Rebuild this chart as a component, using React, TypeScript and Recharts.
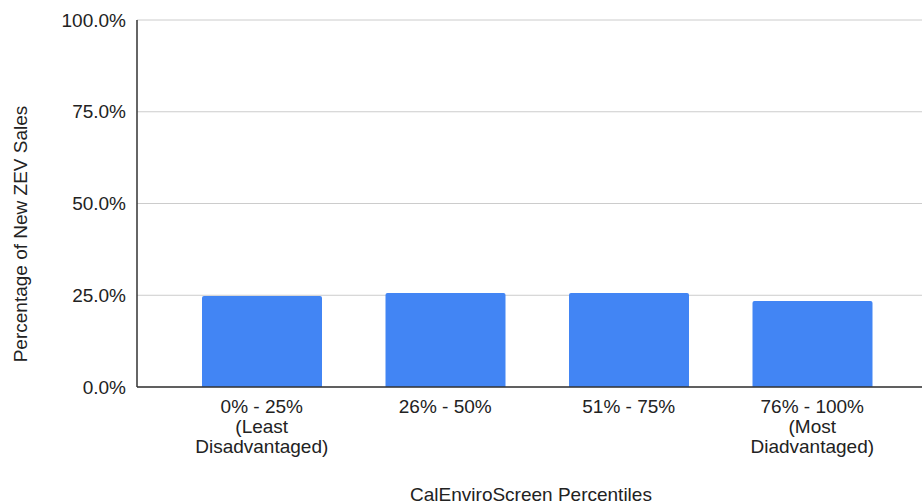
import React from 'react';
import { BarChart, Bar, XAxis, YAxis, CartesianGrid, Label } from 'recharts';

// Share of new ZEV sales by CalEnviroScreen percentile group
const categories: string[] = [
  '0% - 25%\n(Least\nDisadvantaged)',
  '26% - 50%',
  '51% - 75%',
  '76% - 100%\n(Most\nDiadvantaged)',
];
const zevShare: number[] = [24.8, 25.6, 25.6, 23.4];
const yTicks: number[] = [0, 25, 50, 75, 100];

const xTitle = 'CalEnviroScreen Percentiles';
const yTitle = 'Percentage of New ZEV Sales';

const data = categories.map((c, i) => ({ name: c, value: zevShare[i] }));

const FONT = '"Liberation Sans", Arial, sans-serif';
const TEXT = '#222222';
const FS = 19;

const CategoryTick = (props: any) => {
  const { x, y, payload } = props;
  const lines = String(payload.value).split('\n');
  return (
    <g transform={`translate(${x},${y})`}>
      <text textAnchor="middle" fill={TEXT} fontFamily={FONT} fontSize={FS}>
        {lines.map((l: string, i: number) => (
          <tspan key={i} x={0} dy={i === 0 ? 18 : 20}>
            {l}
          </tspan>
        ))}
      </text>
    </g>
  );
};

export default function App() {
  return (
    <div style={{ position: 'fixed', left: 0, top: 0, background: '#fff' }}>
      <BarChart
        width={922}
        height={504}
        data={data}
        margin={{ top: 20, right: 0, bottom: 0, left: 0 }}
      >
        <CartesianGrid vertical={false} stroke="#cccccc" />
        <XAxis
          dataKey="name"
          height={117}
          tickLine={false}
          axisLine={{ stroke: '#333333', strokeWidth: 1.5 }}
          padding={{ left: 33, right: 18 }}
          tick={<CategoryTick />}
          interval={0}
        >
          <Label
            content={() => (
              <text
                x={531}
                y={501}
                textAnchor="middle"
                fill={TEXT}
                fontFamily={FONT}
                fontSize={FS}
              >
                {xTitle}
              </text>
            )}
          />
        </XAxis>
        <YAxis
          width={137}
          domain={[0, 100]}
          ticks={yTicks}
          tickLine={false}
          axisLine={{ stroke: '#333333', strokeWidth: 1.5 }}
          tickMargin={5}
          tickFormatter={(v: number) => `${v.toFixed(1)}%`}
          tick={{ fill: TEXT, fontFamily: FONT, fontSize: FS }}
        >
          <Label
            content={() => (
              <text
                x={0}
                y={0}
                transform="translate(27,234) rotate(-90)"
                textAnchor="middle"
                fill={TEXT}
                fontFamily={FONT}
                fontSize={FS}
              >
                {yTitle}
              </text>
            )}
          />
        </YAxis>
        <Bar
          dataKey="value"
          fill="#4285F4"
          barSize={120}
          radius={[2, 2, 0, 0]}
          isAnimationActive={false}
        />
      </BarChart>
    </div>
  );
}
